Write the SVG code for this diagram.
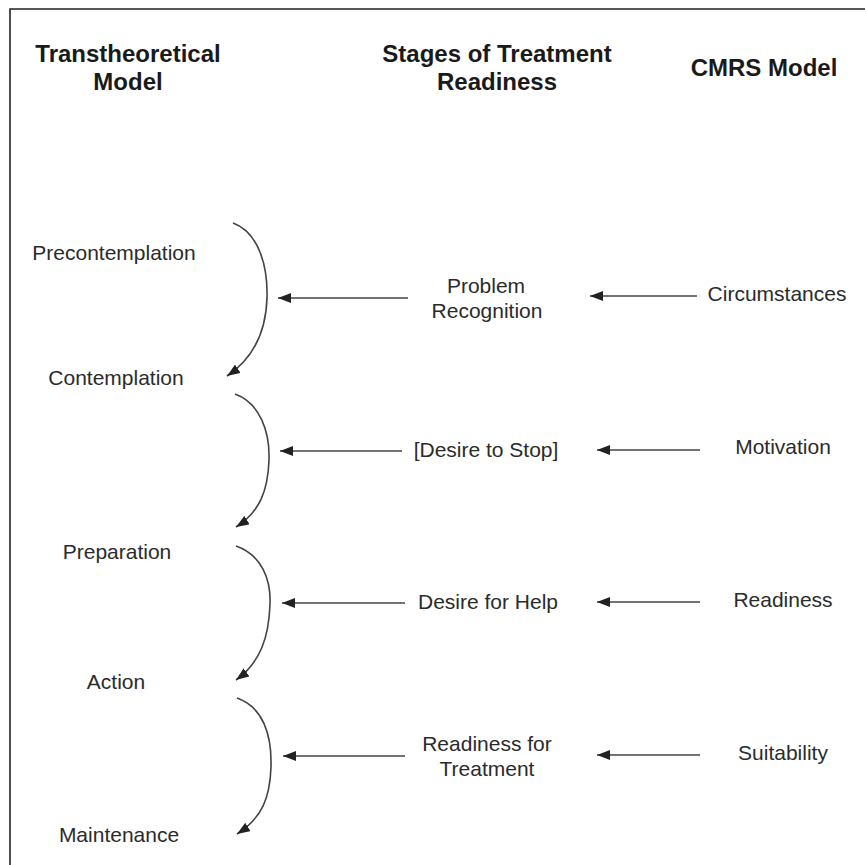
<svg xmlns="http://www.w3.org/2000/svg" width="865" height="865" viewBox="0 0 865 865">
<defs>
<style>
.h{font-family:"Liberation Sans",Arial,sans-serif;font-weight:bold;font-size:24px;fill:#1a1a1a;text-anchor:middle}
.t{font-family:"Liberation Sans",Arial,sans-serif;font-size:21px;fill:#2b2b2b;text-anchor:middle}
.c{fill:none;stroke:#444;stroke-width:1.6}
.a{fill:none;stroke:#444;stroke-width:1.4}
</style>
<marker id="ah" markerUnits="userSpaceOnUse" markerWidth="14" markerHeight="10" refX="13" refY="5" orient="auto">
<path d="M0,0 L13,5 L0,10 z" fill="#222"/>
</marker>
</defs>
<rect width="865" height="865" fill="#fff"/>
<path d="M10,865 V9 H865" fill="none" stroke="#222" stroke-width="1.6"/>
<g id="headers">
<text class="h" x="128" y="62">Transtheoretical</text>
<text class="h" x="128" y="90">Model</text>
<text class="h" x="497" y="62">Stages of Treatment</text>
<text class="h" x="497" y="90">Readiness</text>
<text class="h" x="764" y="76">CMRS Model</text>
</g>
<g id="precontemplation"><text class="t" x="114" y="260">Precontemplation</text></g>
<g id="contemplation"><text class="t" x="116" y="385">Contemplation</text></g>
<g id="preparation"><text class="t" x="117" y="559">Preparation</text></g>
<g id="action"><text class="t" x="116" y="689">Action</text></g>
<g id="maintenance"><text class="t" x="119" y="842">Maintenance</text></g>
<g id="problem-recognition"><text class="t" x="486" y="293">Problem</text><text class="t" x="487" y="318">Recognition</text></g>
<g id="desire-to-stop"><text class="t" x="486" y="457">[Desire to Stop]</text></g>
<g id="desire-for-help"><text class="t" x="488" y="609">Desire for Help</text></g>
<g id="readiness-for-treatment"><text class="t" x="487" y="751">Readiness for</text><text class="t" x="487" y="776">Treatment</text></g>
<g id="circumstances"><text class="t" x="777" y="301">Circumstances</text></g>
<g id="motivation"><text class="t" x="783" y="454">Motivation</text></g>
<g id="readiness"><text class="t" x="783" y="607">Readiness</text></g>
<g id="suitability"><text class="t" x="783" y="760">Suitability</text></g>
<g id="connectors">
<path class="c" marker-end="url(#ah)" d="M233,223 C258,232 268,265 267,298 C266,330 254,358 227,376"/>
<path class="c" marker-end="url(#ah)" d="M235,394 C260,403 270,432 269,460 C268,490 260,512 236,527"/>
<path class="c" marker-end="url(#ah)" d="M236,546 C262,555 271,580 270,604 C269,636 261,662 236,680"/>
<path class="c" marker-end="url(#ah)" d="M237,698 C263,707 272,735 271,767 C270,798 262,818 237,834"/>
<path class="a" marker-end="url(#ah)" d="M408,298 H278"/>
<path class="a" marker-end="url(#ah)" d="M697,296 H590"/>
<path class="a" marker-end="url(#ah)" d="M402,451 H280"/>
<path class="a" marker-end="url(#ah)" d="M700,450 H597"/>
<path class="a" marker-end="url(#ah)" d="M405,603 H282"/>
<path class="a" marker-end="url(#ah)" d="M700,602 H597"/>
<path class="a" marker-end="url(#ah)" d="M405,756 H283"/>
<path class="a" marker-end="url(#ah)" d="M700,755 H597"/>
</g>
</svg>
